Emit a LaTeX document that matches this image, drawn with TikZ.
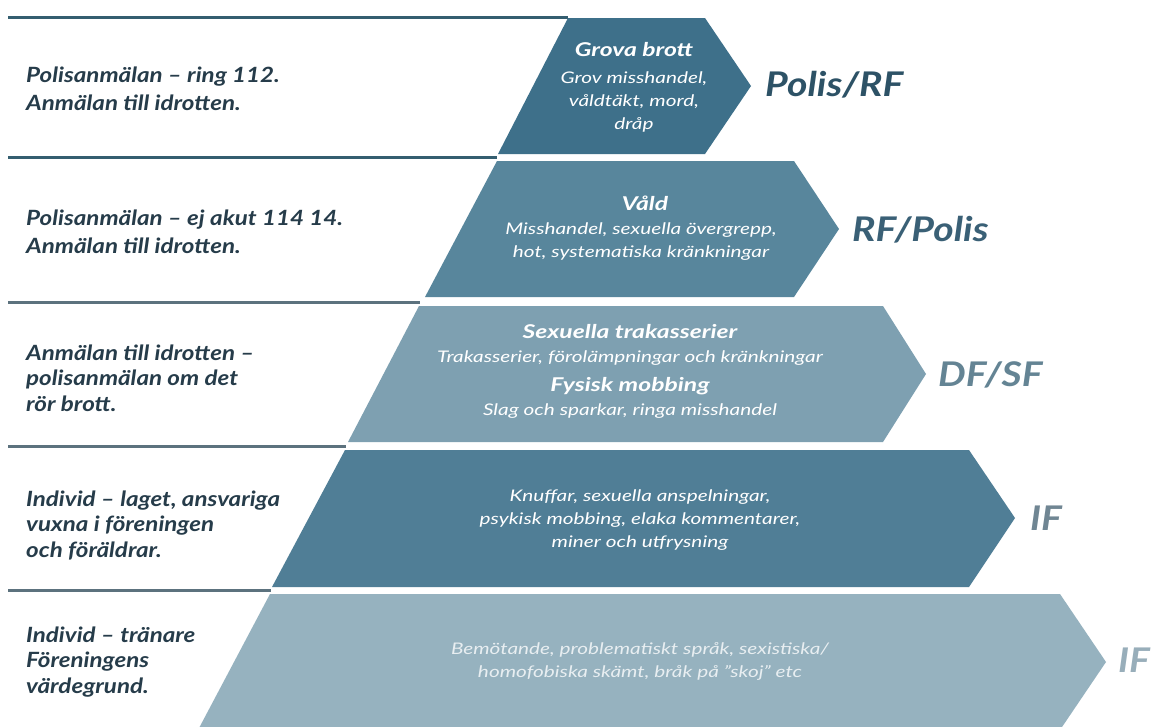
\documentclass[tikz,border=0pt]{standalone}
\usepackage{fontspec}
\setmainfont{Lato}[FakeStretch=1.15]
\newfontfamily\bandfont{Lato}[FakeStretch=1.3]
\usepackage{xcolor}
\definecolor{B1}{RGB}{62,112,138}
\definecolor{B2}{RGB}{88,134,156}
\definecolor{B3}{RGB}{126,160,177}
\definecolor{B4}{RGB}{80,126,150}
\definecolor{B5}{RGB}{150,178,191}
\definecolor{L1}{RGB}{52,94,112}
\definecolor{L2}{RGB}{92,114,126}
\definecolor{T0}{RGB}{38,60,74}
\definecolor{R1}{RGB}{45,82,102}
\definecolor{R2}{RGB}{58,96,118}
\definecolor{R3}{RGB}{100,132,148}
\definecolor{R4}{RGB}{112,134,147}
\definecolor{R5}{RGB}{152,174,186}

\tikzset{
  sepline/.style={line width=3pt},
  lefttext/.style={anchor=west, inner sep=0pt, align=left, text=T0,
    font=\fontsize{21}{25.5}\selectfont\bfseries\itshape},
  who/.style={anchor=west, inner sep=0pt,
    font=\fontsize{34}{34}\selectfont\bfseries\itshape},
  head/.style={inner sep=0pt, text=white,
    font=\bandfont\fontsize{19}{22}\selectfont\bfseries\itshape},
  body/.style={inner sep=0pt, text=white, align=center,
    font=\bandfont\fontsize{16}{23}\selectfont\itshape},
}

\begin{document}
\begin{tikzpicture}[x=1pt,y=-1pt]

  \fill[white] (0,0) rectangle (1154,726);
  \useasboundingbox (0,0) rectangle (1154,726);
  \clip (0,0) rectangle (1154,726);

  % Separator lines on the left.
  \draw[sepline,L1] (8,17) -- (568,17);
  \draw[sepline,L1] (8,157) -- (497,157);
  \draw[sepline,L2] (8,302) -- (420,302);
  \draw[sepline,L2] (8,446) -- (346,446);
  \draw[sepline,L2] (8,590) -- (271,590);

  % Bands, narrowest on top.
  \fill[B1] (568,18) -- (705,18) -- (751,86) -- (705,154) -- (498,154) -- cycle; % grova brott
  \fill[B2] (497,161) -- (794,161) -- (839,229) -- (794,297) -- (425,297) -- cycle; % vald
  \fill[B3] (419,306) -- (883,306) -- (926,374) -- (883,442) -- (348,442) -- cycle; % trakasserier
  \fill[B4] (345,450) -- (969,450) -- (1015,518) -- (969,587) -- (272,587) -- cycle; % knuffar
  \fill[B5] (270,594) -- (1060,594) -- (1106,662) -- (1060,730) -- (198,730) -- cycle; % bemotande

  % Left column.
  \node[lefttext,font=\fontsize{21}{28}\selectfont\bfseries\itshape] (lvl1) at (26,89)
    {Polisanmälan – ring 112.\\Anmälan till idrotten.};
  \node[lefttext,font=\fontsize{21}{28}\selectfont\bfseries\itshape] (lvl2) at (26,232)
    {Polisanmälan – ej akut 114 14.\\Anmälan till idrotten.};
  \node[lefttext] (lvl3) at (26,378) {Anmälan till idrotten –\\polisanmälan om det\\rör brott.};
  \node[lefttext] (lvl4) at (26,525) {Individ – laget, ansvariga\\vuxna i föreningen\\och föräldrar.};
  \node[lefttext] (lvl5) at (26,662) {Individ – tränare\\Föreningens\\värdegrund.};

  % Inside the bands.
  \node[head] (head1) at (634,50) {Grova brott};
  \node[body] (desc1) at (634,102) {Grov misshandel,\\våldtäkt, mord,\\dråp};
  \node[head] (head2) at (645,203) {Våld};
  \node[body] (desc2) at (641,242) {Misshandel, sexuella övergrepp,\\hot, systematiska kränkningar};
  \node[head] (head3a) at (630,332) {Sexuella trakasserier};
  \node[body] (desc3a) at (630,358) {Trakasserier, förolämpningar och kränkningar};
  \node[head] (head3b) at (630,386) {Fysisk mobbing};
  \node[body] (desc3b) at (630,411) {Slag och sparkar, ringa misshandel};
  \node[body] (desc4) at (640,520)
    {Knuffar, sexuella anspelningar,\\psykisk mobbing, elaka kommentarer,\\miner och utfrysning};
  \node[body,text=white!78!B5] (desc5) at (640,661)
    {Bemötande, problematiskt språk, sexistiska/\\homofobiska skämt, bråk på ”skoj” etc};

  % Who handles it.
  \node[who,text=R1] (who1) at (765,85) {Polis/RF};
  \node[who,text=R2] (who2) at (852,230) {RF/Polis};
  \node[who,text=R3] (who3) at (938,375) {DF/SF};
  \node[who,text=R4] (who4) at (1030,518) {IF};
  \node[who,text=R5] (who5) at (1118,660) {IF};

\end{tikzpicture}
\end{document}
